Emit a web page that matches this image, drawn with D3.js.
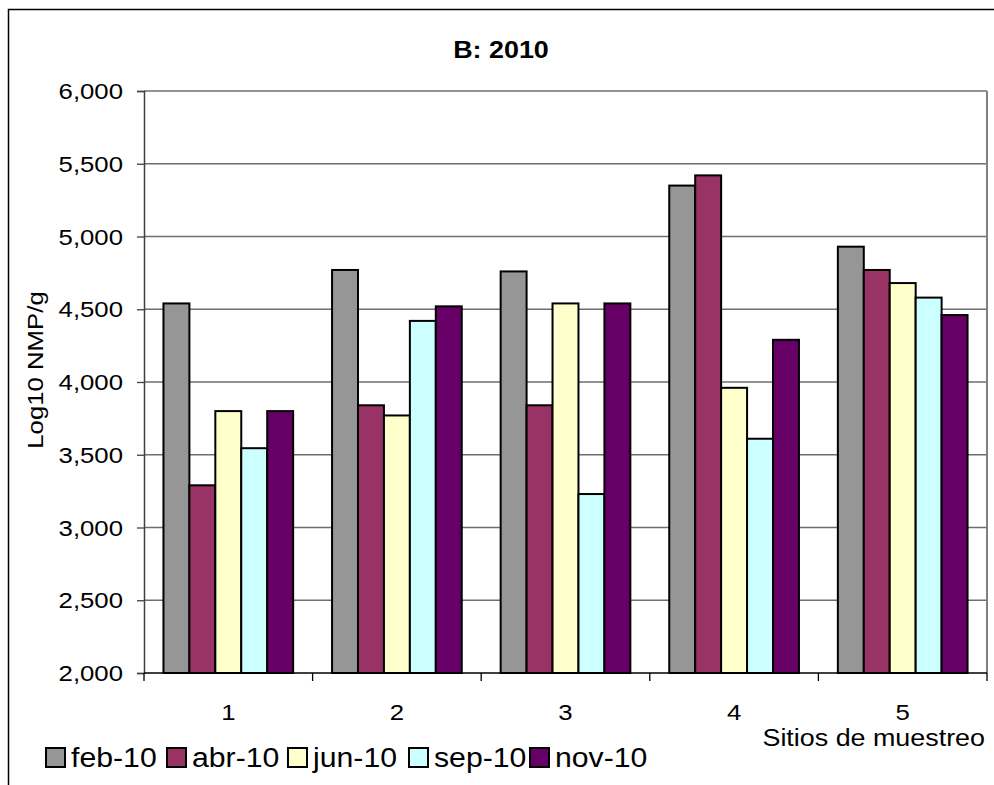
<!DOCTYPE html>
<html>
<head>
<meta charset="utf-8">
<script src="https://cdn.jsdelivr.net/npm/d3@7"></script>
<style>
  html, body { margin: 0; padding: 0; background: #fff; }
  svg { display: block; font-family: Arial, "Liberation Sans", sans-serif; }
</style>
</head>
<body>
<svg id="chart" width="994" height="785"></svg>
<script>
// Sampling sites and sampling dates
const sites = ["1", "2", "3", "4", "5"];
const months = ["feb-10", "abr-10", "jun-10", "sep-10", "nov-10"];
const colors = ["#969696", "#993366", "#FFFFCC", "#CCFFFF", "#660066"];

// Log10 NMP/g per site, one array per sampling date
const feb10 = [4540, 4770, 4760, 5350, 4930];
const abr10 = [3290, 3840, 3840, 5420, 4770];
const jun10 = [3800, 3770, 4540, 3960, 4680];
const sep10 = [3545, 4420, 3230, 3610, 4580];
const nov10 = [3800, 4520, 4540, 4290, 4460];
const seriesValues = [feb10, abr10, jun10, sep10, nov10];

const yTicks = [2000, 2500, 3000, 3500, 4000, 4500, 5000, 5500, 6000];

// Horizontal widening applied to all text (wide Arial look)
const STRETCH = 1.12;

const svg = d3.select("#chart");

// Places a text element at (x, y) stretched along its reading direction
function label(parent, x, y, str, opts = {}) {
  const rot = opts.rotate ? ` rotate(${opts.rotate})` : "";
  const g = parent.append("g")
    .attr("transform", `translate(${x},${y})${rot} scale(${STRETCH},1)`);
  return g.append("text")
    .attr("text-anchor", opts.anchor || "start")
    .attr("font-size", opts.size || 23)
    .attr("font-weight", opts.weight || "normal")
    .attr("dy", opts.dy || null)
    .attr("fill", "#000")
    .text(str);
}

// Outer chart frame (continues past the right and bottom edges)
svg.append("rect")
  .attr("x", 8.5).attr("y", 9.5)
  .attr("width", 1100).attr("height", 900)
  .attr("fill", "none").attr("stroke", "#000").attr("stroke-width", 1.5);

const plot = { left: 144, right: 987, top: 91, bottom: 673 };

const x0 = d3.scaleBand().domain(sites).range([plot.left, plot.right]).padding(0);
const W = x0.bandwidth();
const gap = W * 1.5 / 6.5;
const x1 = d3.scaleBand().domain(months).range([gap / 2, W - gap / 2]).padding(0);
const y = d3.scaleLinear().domain([2000, 6000]).range([plot.bottom, plot.top]);

// Gridlines
svg.append("g")
  .selectAll("line")
  .data(yTicks.slice(1))
  .join("line")
  .attr("x1", plot.left).attr("x2", plot.right)
  .attr("y1", d => y(d)).attr("y2", d => y(d))
  .attr("stroke", "#6e6e6e").attr("stroke-width", 1.3);

// Plot area border (right side)
svg.append("line")
  .attr("x1", plot.right).attr("x2", plot.right)
  .attr("y1", plot.top).attr("y2", plot.bottom)
  .attr("stroke", "#808080").attr("stroke-width", 2);

// Bars
const groups = svg.append("g")
  .selectAll("g")
  .data(sites)
  .join("g")
  .attr("transform", d => `translate(${x0(d)},0)`);

groups.selectAll("rect")
  .data((d, i) => months.map((m, j) => ({ m, j, v: seriesValues[j][i] })))
  .join("rect")
  .attr("x", d => x1(d.m))
  .attr("y", d => y(d.v))
  .attr("width", x1.bandwidth())
  .attr("height", d => y(2000) - y(d.v))
  .attr("fill", d => colors[d.j])
  .attr("stroke", "#000")
  .attr("stroke-width", 2);

// Y axis (line and ticks from d3.axisLeft, labels placed stretched)
const yAxis = d3.axisLeft(y)
  .tickValues(yTicks)
  .tickFormat("")
  .tickSizeOuter(0)
  .tickSize(7);
const gy = svg.append("g")
  .attr("transform", `translate(${plot.left},0)`)
  .call(yAxis);
gy.select(".domain").attr("stroke", "#404040").attr("stroke-width", 1.5);
gy.selectAll(".tick line").attr("stroke", "#404040").attr("stroke-width", 1.3);
const fmt = d3.format(",.0f");
yTicks.forEach(t => {
  label(svg, 123, y(t), fmt(t), { anchor: "end", dy: "0.35em" });
});

// X axis with ticks between categories
const gx = svg.append("g")
  .attr("transform", `translate(0,${plot.bottom})`);
gx.append("line")
  .attr("x1", plot.left).attr("x2", plot.right)
  .attr("stroke", "#000").attr("stroke-width", 1.5);
gx.selectAll("line.tk")
  .data(d3.range(sites.length + 1))
  .join("line")
  .attr("class", "tk")
  .attr("x1", i => plot.left + i * W).attr("x2", i => plot.left + i * W)
  .attr("y1", 0).attr("y2", 8)
  .attr("stroke", "#000").attr("stroke-width", 1.3);
sites.forEach(s => {
  label(svg, x0(s) + W / 2, plot.bottom + 47, s, { anchor: "middle" });
});

// Title
label(svg, 501, 58, "B: 2010", { anchor: "middle", weight: "bold", size: 24 });

// Axis titles
label(svg, 43, 370, "Log10 NMP/g", { anchor: "middle", rotate: -90 });
label(svg, 985, 746, "Sitios de muestreo", { anchor: "end", size: 24 });

// Legend
const legend = svg.append("g").attr("transform", "translate(46,748)");
months.forEach((m, i) => {
  const item = legend.append("g").attr("transform", `translate(${i * 121},0)`);
  item.append("rect")
    .attr("width", 19).attr("height", 19)
    .attr("fill", colors[i])
    .attr("stroke", "#000").attr("stroke-width", 2);
  label(item, 25, 19, m, { size: 27 });
});
</script>
</body>
</html>
